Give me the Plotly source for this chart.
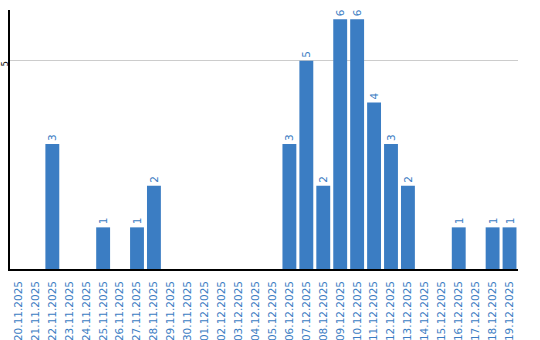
import plotly.graph_objects as go

dates = ["20.11.2025", "21.11.2025", "22.11.2025", "23.11.2025", "24.11.2025",
         "25.11.2025", "26.11.2025", "27.11.2025", "28.11.2025", "29.11.2025",
         "30.11.2025", "01.12.2025", "02.12.2025", "03.12.2025", "04.12.2025",
         "05.12.2025", "06.12.2025", "07.12.2025", "08.12.2025", "09.12.2025",
         "10.12.2025", "11.12.2025", "12.12.2025", "13.12.2025", "14.12.2025",
         "15.12.2025", "16.12.2025", "17.12.2025", "18.12.2025", "19.12.2025"]
counts = [0, 0, 3, 0, 0, 1, 0, 1, 2, 0,
          0, 0, 0, 0, 0, 0, 3, 5, 2, 6,
          6, 4, 3, 2, 0, 0, 1, 0, 1, 1]
y_ticks = [5]

blue = "#3b7dc3"
labels = [str(v) if v else "" for v in counts]

fig = go.Figure(go.Bar(
    x=dates, y=counts, text=labels, textposition="outside", textangle=-90,
    textfont=dict(color=blue, size=10.5, family="DejaVu Sans"),
    marker=dict(color=blue, line=dict(width=0)), cliponaxis=False,
))
fig.update_layout(
    width=540, height=340, margin=dict(l=10, r=22, t=10, b=71),
    paper_bgcolor="white", plot_bgcolor="white", bargap=0.18, showlegend=False,
    font=dict(family="DejaVu Sans"),
)
for t in y_ticks:
    fig.add_annotation(x=0, xref="paper", y=t, yref="y", text=str(t),
                       textangle=-90, showarrow=False, xanchor="left",
                       yanchor="middle", xshift=-10, yshift=-3, borderpad=0,
                       font=dict(color="black", size=8))
fig.update_xaxes(type="category", tickangle=-90, showline=True, linecolor="black",
                 linewidth=1.5, ticks="", tickfont=dict(color=blue, size=10.5),
                 showgrid=False, automargin=False, ticklabelstandoff=6)
fig.update_yaxes(range=[0, 6.22], tickvals=y_ticks, showticklabels=False,
                 showline=True, linecolor="black", linewidth=1.5,
                 gridcolor="#cccccc", gridwidth=1, zeroline=False,
                 ticks="", automargin=False)
fig.write_html("out.html")
